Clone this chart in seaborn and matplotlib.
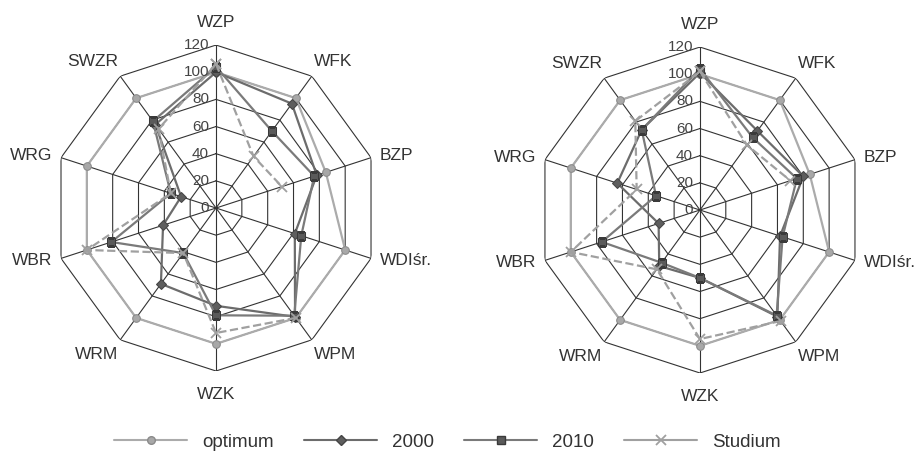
import numpy as np
import matplotlib
matplotlib.use("Agg")
import matplotlib.pyplot as plt
from matplotlib.lines import Line2D
import seaborn as sns

# axes of the radar, clockwise from the top
categories = ['WZP', 'WFK', 'BZP', 'WDIśr.', 'WPM', 'WZK', 'WRM', 'WBR', 'WRG', 'SWZR']
r_ticks = [0, 20, 40, 60, 80, 100, 120]
series_names = ['optimum', '2000', '2010', 'Studium']

# left chart
left_optimum = [100, 100, 85, 100, 100, 100, 100, 100, 100, 100]
left_2000 = [100, 95, 78, 61, 99, 72, 69, 41, 27, 76]
left_2010 = [104, 70, 76, 66, 98, 79, 41, 81, 35, 79]
left_studium = [106, 47, 51, np.nan, 100, 92, 41, 100, 35, 72]

# right chart
right_optimum = [100, 100, 85, 100, 100, 100, 100, 100, 100, 100]
right_2000 = [101, 72, 80, 62, 97, 50, 51, 32, 64, 73]
right_2010 = [104, 66, 75, 64, 96, 50, 48, 76, 34, 73]
right_studium = [102, 59, 70, np.nan, 101, 95, 54, 100, 49, 81]

styles = {
    'optimum': dict(color='#ababab', marker='o', markersize=5.5, markerfacecolor='#a8a8a8',
                    markeredgecolor='#8a8a8a', linestyle='-'),
    '2000': dict(color='#6c6c6c', marker='D', markersize=5.5, markerfacecolor='#5e5e5e',
                 markeredgecolor='#454545', linestyle='-'),
    '2010': dict(color='#7a7a7a', marker='s', markersize=6, markerfacecolor='#5a5a5a',
                 markeredgecolor='#3a3a3a', linestyle='-'),
    'Studium': dict(color='#a0a0a0', marker='x', markersize=7, markeredgecolor='#a0a0a0',
                    markeredgewidth=1.3, linestyle='--'),
}

sns.set_theme(style='white')
plt.rcParams['font.family'] = ['Liberation Sans', 'DejaVu Sans']

n = len(categories)
angles = np.linspace(0, 2 * np.pi, n, endpoint=False)
angles_closed = np.append(angles, 2 * np.pi)


def draw_series(ax, values, name):
    vals = np.append(np.asarray(values, dtype=float), values[0])
    # split on missing values so the line breaks like in Excel
    seg_t, seg_r = [], []
    for t, r in zip(angles_closed, vals):
        if np.isnan(r):
            if len(seg_t) > 0:
                sns.lineplot(x=seg_t, y=seg_r, ax=ax, sort=False, estimator=None,
                             linewidth=1.6, legend=False, **styles[name])
            seg_t, seg_r = [], []
        else:
            seg_t.append(t)
            seg_r.append(r)
    if len(seg_t) > 0:
        sns.lineplot(x=seg_t, y=seg_r, ax=ax, sort=False, estimator=None,
                     linewidth=1.6, legend=False, **styles[name])


def radar(ax, data):
    ax.set_theta_offset(np.pi / 2)
    ax.set_theta_direction(-1)
    ax.grid(False)
    ax.spines['polar'].set_visible(False)
    ax.set_facecolor('none')
    ax.set_xticks([])
    ax.set_yticks([])
    # polygon grid
    for r in r_ticks[1:]:
        ax.plot(angles_closed, [r] * (n + 1), color='#333333', linewidth=0.8, zorder=1)
    for a in angles:
        ax.plot([a, a], [0, r_ticks[-1]], color='#333333', linewidth=0.8, zorder=1)
    for r in r_ticks:
        ax.annotate(str(r), xy=(0, r), xytext=(-5, 0), textcoords='offset points',
                    ha='right', va='center', fontsize=11, color='#444444', zorder=5)
    for name, values in zip(series_names, data):
        draw_series(ax, values, name)
    # category labels sit just outside the outer vertex, Excel style
    for a, lab in zip(angles, categories):
        ux, uy = np.sin(a), np.cos(a)
        if abs(ux) < 0.1:
            ha = 'center'
        elif ux > 0:
            ha = 'left'
        else:
            ha = 'right'
        dx = 10 * ux ** 3
        dy = 23 * uy * abs(uy)
        ax.annotate(lab, xy=(a, r_ticks[-1]), xytext=(dx, dy), textcoords='offset pixels',
                    ha=ha, va='center', fontsize=12.5, color='#333333')
    ax.set_ylim(0, r_ticks[-1])


fig = plt.figure(figsize=(9.19, 4.54), dpi=100)
ax1 = fig.add_axes([0.0577, 0.1828, 0.3547, 0.718], projection='polar')
ax2 = fig.add_axes([0.5843, 0.1784, 0.3547, 0.718], projection='polar')

radar(ax1, [left_optimum, left_2000, left_2010, left_studium])
radar(ax2, [right_optimum, right_2000, right_2010, right_studium])

handles = []
for name in series_names:
    st = dict(styles[name])
    st['linestyle'] = '-'
    handles.append(Line2D([0], [0], linewidth=1.5, **st))
fig.legend(handles, series_names, loc='lower center', bbox_to_anchor=(0.487, -0.03),
           ncol=4, frameon=False, fontsize=13.5, handlelength=3.9, handletextpad=0.8,
           columnspacing=1.6, labelcolor='#333333')

fig.savefig('out.png', dpi=100)
